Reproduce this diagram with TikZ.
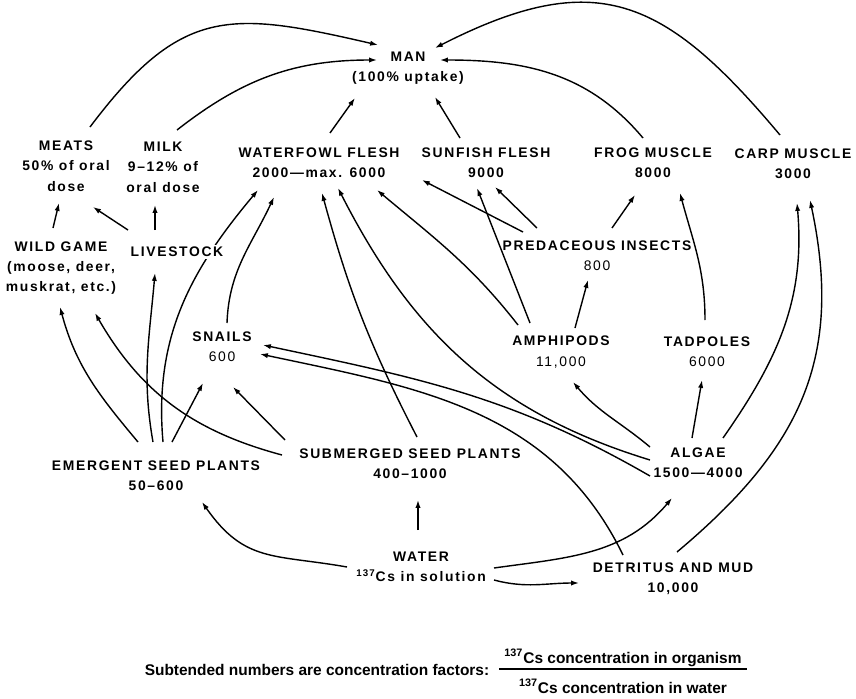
\documentclass[tikz,border=0pt]{standalone}
\usepackage{fontspec}
\setmainfont{Liberation Sans}
\newfontfamily\spacedfont[LetterSpace=12]{Liberation Sans}
\usetikzlibrary{arrows.meta, calc, backgrounds}

\tikzset{
  taxon/.style={align=center, inner sep=1pt,
    font=\spacedfont\bfseries\fontsize{7.9}{11.6}\selectfont},
  note/.style={inner sep=1pt, font=\bfseries\fontsize{8.8}{10}\selectfont},
  flow/.style={-{Latex[length=4.5pt,width=3pt]}, line width=0.8pt},
}

\begin{document}
\begin{tikzpicture}[x=0.02cm, y=0.02cm]
  \useasboundingbox (0,0) rectangle (856,698);

  % consumers at the top
  \node[taxon] (man)     at (408,630) {MAN\\(100\% uptake)};
  \node[taxon] (meats)   at (66,532)  {MEATS\\50\% of oral\\dose};
  \node[taxon] (milk)    at (163,531) {MILK\\9–12\% of\\oral dose};
  \node[taxon] (fowl)    at (319,535) {WATERFOWL FLESH\\2000—max. 6000};
  \node[taxon] (sunfish) at (486,535) {SUNFISH FLESH\\9000};
  \node[taxon] (frog)    at (653,535) {FROG MUSCLE\\8000};
  \node[taxon] (carp)    at (793,534) {CARP MUSCLE\\3000};

  % middle of the web
  \node[taxon] (game)     at (61,430)  {WILD GAME\\(moose, deer,\\muskrat, etc.)};
  \node[taxon, fill=white] (stock) at (177,446) {LIVESTOCK};
  \node[taxon] (insects)  at (597,442) {PREDACEOUS INSECTS\\{\mdseries 800}};
  \node[taxon] (snails)   at (222,351) {SNAILS\\{\mdseries 600}};
  \node[taxon] (amphi)    at (561,346) {AMPHIPODS\\{\mdseries 11,000}};
  \node[taxon] (tadpoles) at (707,346) {TADPOLES\\{\mdseries 6000}};

  % producers and sources
  \node[taxon] (emergent)  at (156,222) {EMERGENT SEED PLANTS\\50–600};
  \node[taxon] (submerged) at (410,234) {SUBMERGED SEED PLANTS\\400–1000};
  \node[taxon] (algae)     at (698,235) {ALGAE\\1500—4000};
  \node[taxon] (water)     at (421,131) {WATER\\\textsuperscript{137}Cs in solution};
  \node[taxon] (detritus)  at (673,119) {DETRITUS AND MUD\\10,000};

  % key
  \node[note] (key) at (317,28) {Subtended numbers are concentration factors:};
  \node[note, anchor=south] (num) at (623,29) {\textsuperscript{137}Cs concentration in organism};
  \node[note] (den) at (623,12) {\textsuperscript{137}Cs concentration in water};
  \draw[line width=1.1pt] ($(num.south west)+(-3,0)$) -- ($(num.south east)+(3,0)$);

  \begin{scope}[on background layer]
  % into man
  \draw[flow] ($(meats)+(24,39)$) to[out=53, in=167, looseness=1.3] ($(man)+(-30,23)$);
  \draw[flow] ($(milk)+(14,37)$) to[out=38, in=180] ($(man)+(-31,8)$);
  \draw[flow] ($(fowl)+(11,30)$) -- ($(man)+(-53,-30)$);
  \draw[flow] ($(sunfish)+(-26,25)$) -- ($(man)+(27,-29)$);
  \draw[flow] ($(frog)+(-10,25)$) to[out=130, in=0] ($(man)+(32,8)$);
  \draw[flow] ($(carp)+(-13,29)$) to[out=130, in=27, looseness=1.3] ($(man)+(27,20)$);

  % meats and milk
  \draw[flow] ($(game)+(-8,40)$) -- ($(meats)+(-7,-37)$);
  \draw[flow] ($(stock)+(-49,22)$) -- ($(meats)+(27,-41)$);
  \draw[flow] ($(stock)+(-22,22)$) -- ($(milk)+(-8,-38)$);

  % from the seed plants
  \draw[flow] ($(emergent)+(-18,34)$) to[out=130, in=-75] ($(game)+(-1,-39)$);
  \draw[flow] ($(emergent)+(-3,34)$) to[out=100, in=-95] ($(stock)+(-22,-21)$);
  \draw[flow] ($(emergent)+(7,34)$) to[out=95, in=-130] ($(fowl)+(-61,-27)$);
  \draw[flow] ($(emergent)+(16,34)$) -- ($(snails)+(-19,-36)$);
  \draw[flow] ($(submerged)+(-128,9)$) to[out=165, in=-60] ($(game)+(34,-45)$);
  \draw[flow] ($(submerged)+(-125,24)$) -- ($(snails)+(11,-40)$);
  \draw[flow] ($(submerged)+(7,27)$) to[bend left=6] ($(fowl)+(3,-30)$);
  \draw[flow] ($(snails)+(5,24)$) to[out=88, in=-115] ($(fowl)+(-45,-34)$);

  % into waterfowl and sunfish
  \draw[flow] ($(algae)+(-48,3)$) to[out=163, in=-63] ($(fowl)+(19,-25)$);
  \draw[flow] ($(amphi)+(-43,27)$) to[out=128, in=-40] ($(fowl)+(58,-27)$);
  \draw[flow] ($(insects)+(-74,24)$) -- ($(fowl)+(103,-17)$);
  \draw[flow] ($(amphi)+(-31,29)$) -- ($(sunfish)+(-9,-25)$);
  \draw[flow] ($(insects)+(-60,28)$) -- ($(sunfish)+(9,-24)$);
  \draw[flow] ($(amphi)+(14,24)$) -- ($(insects)+(-9,-24)$);
  \draw[flow] ($(insects)+(15,28)$) -- ($(frog)+(-18,-32)$);
  \draw[flow] ($(tadpoles)+(-2,32)$) to[out=90, in=-75] ($(frog)+(27,-30)$);

  % from algae and detritus
  \draw[flow] ($(algae)+(-6,25)$) -- ($(tadpoles)+(-5,-28)$);
  \draw[flow] ($(algae)+(-48,16)$) to[out=140, in=-50] ($(amphi)+(12,-30)$);
  \draw[flow] ($(algae)+(25,25)$) to[out=55, in=-85] ($(carp)+(4,-39)$);
  \draw[flow] ($(detritus)+(4,27)$) to[out=40, in=-78, looseness=1.1] ($(carp)+(17,-36)$);
  \draw[flow] ($(detritus)+(-50,24)$) to[out=116, in=-12] ($(snails)+(38,-7)$);
  \draw[flow] ($(algae)+(-48,-13)$) to[out=150, in=-12] ($(snails)+(41,2)$);

  % from water
  \draw[flow] ($(water)+(-74,0)$) to[out=170, in=-55, looseness=1.2] ($(emergent)+(46,-26)$);
  \draw[flow] ($(water)+(-3,37)$) -- ($(submerged)+(8,-36)$);
  \draw[flow] ($(water)+(73,-1)$) to[out=8, in=-130] ($(algae)+(-26,-35)$);
  \draw[flow] ($(water)+(73,-13)$) to[out=-15, in=180] ($(detritus)+(-94,-4)$);
  \end{scope}
\end{tikzpicture}
\end{document}
